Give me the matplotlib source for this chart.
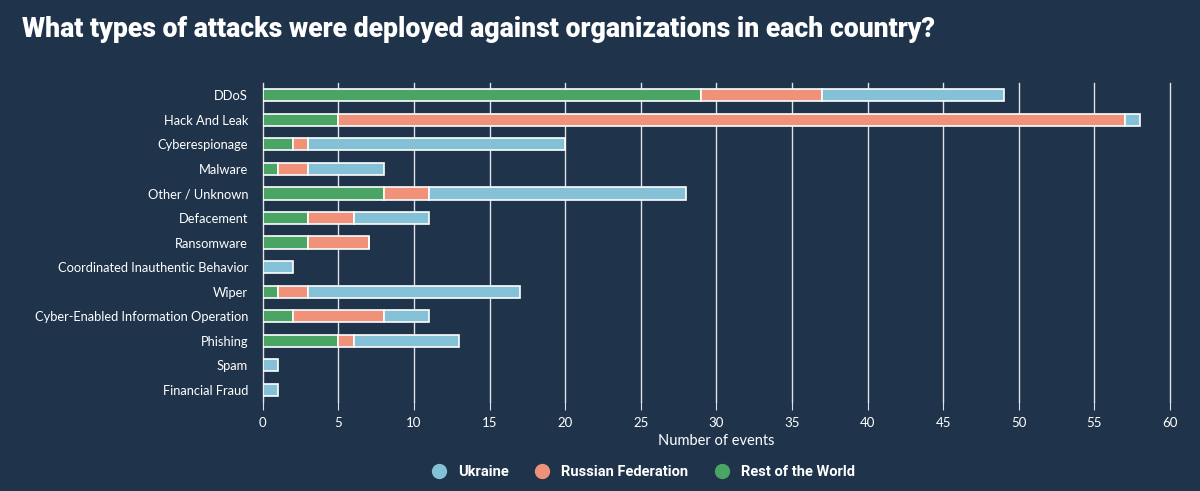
import matplotlib.pyplot as plt
from matplotlib.lines import Line2D
import numpy as np

categories = [
    "DDoS", "Hack And Leak", "Cyberespionage", "Malware", "Other / Unknown",
    "Defacement", "Ransomware", "Coordinated Inauthentic Behavior", "Wiper",
    "Cyber-Enabled Information Operation", "Phishing", "Spam", "Financial Fraud",
]
rest_of_world = [29, 5, 2, 1, 8, 3, 3, 0, 1, 2, 5, 0, 0]
russia = [8, 52, 1, 2, 3, 3, 4, 0, 2, 6, 1, 0, 0]
ukraine = [12, 1, 17, 5, 17, 5, 0, 2, 14, 3, 7, 1, 1]

bg = "#1f334a"
c_ukr = "#85c1d6"
c_rus = "#f0917a"
c_row = "#4aa564"

plt.rcParams["font.family"] = ["Lato", "DejaVu Sans"]

fig = plt.figure(figsize=(12, 4.91), dpi=100, facecolor=bg)
ax = fig.add_axes([0.219, 0.181, 0.756, 0.65], facecolor=bg)

y = np.arange(len(categories))
row = np.array(rest_of_world)
rus = np.array(russia)
ukr = np.array(ukraine)

kw = dict(height=0.5, edgecolor="white", linewidth=1.2, zorder=3)
ax.barh(y, row, color=c_row, label="Rest of the World", **kw)
ax.barh(y, rus, left=row, color=c_rus, label="Russian Federation", **kw)
ax.barh(y, ukr, left=row + rus, color=c_ukr, label="Ukraine", **kw)

ax.set_xlim(0, 60)
ax.set_ylim(len(categories) - 0.5, -0.5)
ax.set_xticks(range(0, 61, 5))
ax.set_yticks(y)
ax.set_yticklabels(categories)
ax.grid(axis="x", color="#dde3e9", linewidth=1.0, zorder=0)
for gl in ax.get_xgridlines():
    gl.set_clip_on(False)
for s in ax.spines.values():
    s.set_visible(False)
ax.tick_params(axis="y", length=0, pad=10.5, labelcolor="white", labelsize=9.3)
ax.tick_params(axis="x", length=6, color="#dde3e9", pad=5, labelcolor="white", labelsize=9.5)
ax.set_xlabel("Number of events", color="white", fontsize=10.5, labelpad=3)

lh = [Line2D([0], [0], marker="o", linestyle="", markersize=10, markerfacecolor=c, markeredgecolor=c)
      for c in (c_ukr, c_rus, c_row)]
leg = fig.legend(lh, ["Ukraine", "Russian Federation", "Rest of the World"],
                 loc="center", bbox_to_anchor=(0.533, 0.038), ncol=3, frameon=False,
                 handletextpad=0.3, columnspacing=1.3,
                 prop={"family": "Roboto", "weight": "bold", "size": 10.5})
for t in leg.get_texts():
    t.set_color("white")

fig.text(0.018, 0.94, "What types of attacks were deployed against organizations in each country?",
         color="white", fontsize=19.2, fontweight="black", family="Roboto", va="center")

fig.savefig("out.png", dpi=100, facecolor=bg)
